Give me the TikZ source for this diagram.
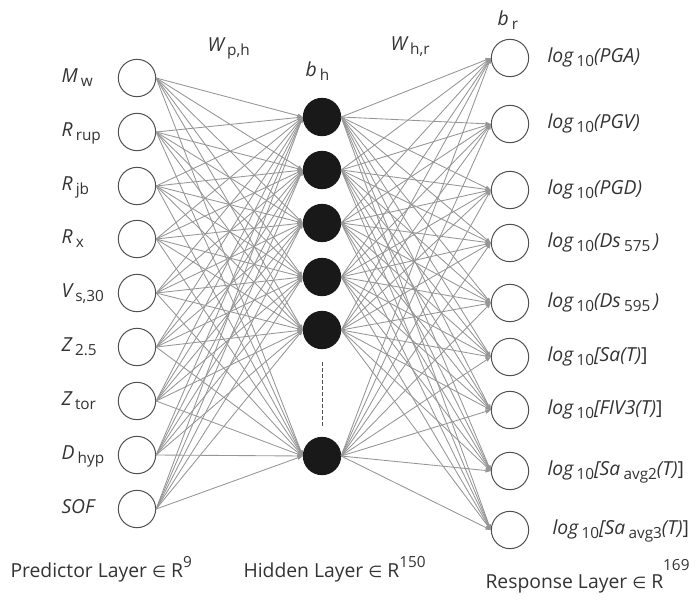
\documentclass[tikz,border=0pt]{standalone}
\usepackage{fontspec}
\setmainfont{Open Sans}
\newfontfamily\symfont{DejaVu Sans}
\usetikzlibrary{arrows.meta,calc}
\definecolor{txtgray}{RGB}{51,51,51}
\definecolor{edgegray}{RGB}{150,150,150}
\definecolor{ringgray}{RGB}{80,80,80}
\newcommand{\lsub}[1]{\,\raisebox{-0.4ex}{\fontsize{11.5}{11.5}\selectfont #1}}
\newcommand{\lsup}[2]{\raisebox{#1}{\fontsize{11.5}{11.5}\selectfont #2}}
\newcommand{\elem}{{\symfont\fontsize{12}{12}\selectfont ∈}}

\tikzset{every picture/.style={line width=0.75pt}}
\tikzset{
  inunit/.style={circle, draw=ringgray, fill=white, minimum size=28pt, inner sep=0pt},
  hidunit/.style={circle, draw=black!90, fill=black!90, minimum size=28pt, inner sep=0pt},
  wire/.style={draw=edgegray, line width=0.65pt, -{Triangle[length=4pt,width=3pt]}},
  lbl/.style={anchor=base west, inner sep=0pt, text=txtgray, font=\fontsize{14.5}{17}\selectfont},
}

\begin{document}
\begin{tikzpicture}[x=0.75pt,y=0.75pt,yscale=-1,xscale=1]
\useasboundingbox (0,0) rectangle (696,600);

%Predictor layer
\foreach \n/\y in {1/78,2/132,3/186,4/239,5/293,6/347,7/401,8/455,9/509}
  \node[inunit] (p\n) at (137,\y) {};

%Hidden layer
\foreach \n/\y in {1/117,2/170,3/223,4/277,5/330,6/456}
  \node[hidunit] (h\n) at (322,\y) {};

%Response layer
\foreach \n/\y in {1/58,2/124,3/190,4/243,5/303,6/357,7/410,8/471,9/530}
  \node[inunit] (r\n) at (510,\y) {};

%Connections
\foreach \i in {1,...,9}{\foreach \h in {1,...,6}{\draw[wire] (p\i.east) -- (h\h.west);}}
\foreach \h in {1,...,6}{\foreach \r in {1,...,9}{\draw[wire] (h\h.east) -- (r\r.west);}}

%Dashed gap in hidden layer
\draw[ringgray, line width=0.6pt, dash pattern=on 2.5pt off 2pt] ($(h5.south)!0.15!(h6.north)$) -- ($(h5.south)!0.88!(h6.north)$);

% Predictor labels
\foreach \n/\y/\t in {1/78/{{\itshape M}\lsub{w}},
                      2/132/{{\itshape R}\lsub{rup}},
                      3/186/{{\itshape R}\lsub{jb}},
                      4/239/{{\itshape R}\lsub{x}},
                      5/293/{{\itshape V}\lsub{s,30}},
                      6/347/{{\itshape Z}\lsub{2.5}},
                      7/401/{{\itshape Z}\lsub{tor}},
                      8/455/{{\itshape D}\lsub{hyp}},
                      9/509/{{\itshape SOF}}}
  \node[lbl] (lp\n) at (61,{\y+4}) {\t};

% Response labels
\node[lbl] (lr1) at (547,62) {{\itshape log}\lsub{10}{\itshape (PGA)}};
\node[lbl] (lr2) at (547,128) {{\itshape log}\lsub{10}{\itshape (PGV)}};
\node[lbl] (lr3) at (547,194) {{\itshape log}\lsub{10}{\itshape (PGD)}};
\node[lbl] (lr4) at (547,247) {{\itshape log}\lsub{10}{\itshape (Ds}\lsub{575}\,{\itshape )}};
\node[lbl] (lr5) at (547,307) {{\itshape log}\lsub{10}{\itshape (Ds}\lsub{595}\,{\itshape )}};
\node[lbl] (lr6) at (547,361) {{\itshape log}\lsub{10}{\itshape [Sa(T)}]};
\node[lbl] (lr7) at (547,414) {{\itshape log}\lsub{10}{\itshape [FIV3(T)}]};
\node[lbl] (lr8) at (547,475) {{\itshape log}\lsub{10}{\itshape [Sa}\lsub{avg2}{\itshape (T)}]};
\node[lbl] (lr9) at (552,534) {{\itshape log}\lsub{10}{\itshape [Sa}\lsub{avg3}{\itshape (T)}]};

% Weight and bias labels
\node[lbl] (wph) at (207,51) {{\itshape W}\lsub{p,h}};
\node[lbl] (bh) at (305,76) {{\itshape b}\lsub{h}};
\node[lbl] (whr) at (390,50) {{\itshape W}\lsub{h,r}};
\node[lbl] (br) at (497,25) {{\itshape b}\lsub{r}};

% Layer titles
\node[lbl] (tp) at (10,577) {Predictor Layer \elem{} R\lsup{7.5pt}{9}};
\node[lbl] (th) at (243,577) {Hidden Layer \elem{} R\lsup{7pt}{150}};
\node[lbl] (tr) at (485,588) {Response Layer \elem{} R\lsup{13.5pt}{169}};

\end{tikzpicture}
\end{document}
